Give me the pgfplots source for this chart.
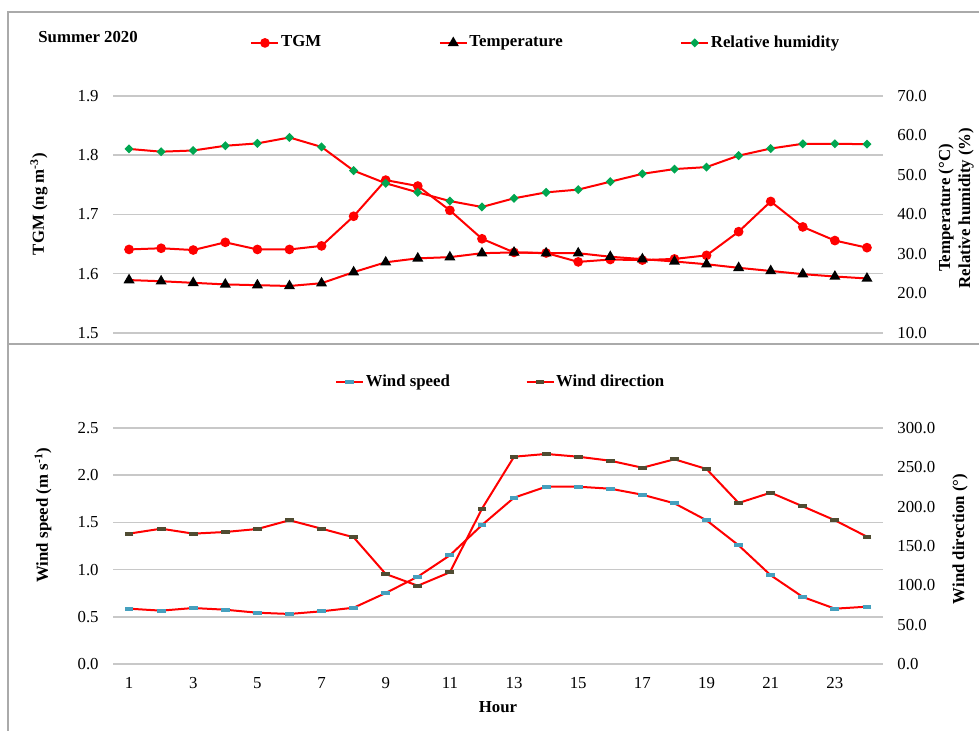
\documentclass[border=0pt]{standalone}
\usepackage{pgfplots}
\pgfplotsset{compat=1.18}
\usepackage{fontspec}
\setmainfont{Liberation Serif}
\definecolor{gridc}{RGB}{200,200,200}
\definecolor{framec}{RGB}{170,170,170}
\definecolor{rhgreen}{RGB}{0,166,80}
\definecolor{wsblue}{RGB}{70,160,190}
\definecolor{wdolive}{RGB}{80,76,50}
\newcommand{\ff}{\fontsize{8.4}{10}\selectfont}
\pgfplotsset{
  base/.style={scale only axis, width=385pt, xmin=0.5, xmax=24.5,
    axis line style={draw=none}, major tick length=0pt, tick style={draw=none},
    clip=false, font=\ff, /pgf/number format/assume math mode=true,
    every tick label/.append style={font=\ff, inner sep=0pt},
    legend image code/.code={\draw[mark repeat=2,mark phase=2,##1] plot coordinates {(0pt,0pt) (6.75pt,0pt) (13.5pt,0pt)};}},
  leftax/.style={ytick pos=left, ymajorgrids, major grid style={gridc, line width=0.75pt},
    yticklabel style={xshift=-7pt, /pgf/number format/.cd, fixed, fixed zerofill, precision=1}},
  rightax/.style={ytick pos=right, yticklabel pos=right, xtick=\empty,
    yticklabel style={xshift=7pt, /pgf/number format/.cd, fixed, fixed zerofill, precision=1}},
  tgm/.style={red, line width=1pt, mark=*, mark size=1.9pt, mark options={solid, fill=red, draw=red}},
  temp/.style={red, line width=1pt, mark=triangle*, mark size=2.2pt, mark options={solid, fill=black, draw=black}},
  rh/.style={red, line width=1pt, mark=square*, mark size=1.1pt, mark options={solid, rotate=45, fill=rhgreen, draw=rhgreen}},
  ws/.style={red, line width=1pt, mark=-, mark size=2.2pt, mark options={solid, draw=wsblue, line width=1.9pt}},
  wd/.style={red, line width=1pt, mark=-, mark size=2.2pt, mark options={solid, draw=wdolive, line width=1.9pt}},
}
\begin{document}
\begin{tikzpicture}
\useasboundingbox (0pt,0pt) rectangle (489.5pt,365.5pt);
% frame
\draw[framec, line width=0.75pt] (4pt,0pt) -- (4pt,359.5pt) -- (489.5pt,359.5pt);
\draw[framec, line width=0.75pt] (4pt,193.5pt) -- (489.5pt,193.5pt);

% ---------- top panel ----------
\begin{axis}[base, leftax, at={(56.5pt,199pt)}, anchor=south west, height=118.5pt,
  ymin=1.5, ymax=1.9, ytick={1.5,1.6,1.7,1.8,1.9}, xtick=\empty]
\addplot[tgm] coordinates {
(1,1.641) (2,1.643) (3,1.640) (4,1.653) (5,1.641) (6,1.641) (7,1.647) (8,1.697)
(9,1.758) (10,1.748) (11,1.707) (12,1.659) (13,1.636) (14,1.635) (15,1.620) (16,1.624)
(17,1.623) (18,1.625) (19,1.631) (20,1.671) (21,1.722) (22,1.679) (23,1.656) (24,1.644)};
\end{axis}
\begin{axis}[base, rightax, at={(56.5pt,199pt)}, anchor=south west, height=118.5pt,
  ymin=10, ymax=70, ytick={10,20,30,40,50,60,70},
  legend columns=3,
  legend style={draw=none, fill=none, inner sep=0pt, at={(0.178,1.224)}, anchor=west,
    font=\ff\bfseries, nodes={inner sep=0.8pt},
    /tikz/every even column/.append style={column sep=58pt}}]
\addlegendimage{tgm}
\addlegendentry{TGM}
\addplot[temp] coordinates {
(1,23.4) (2,23.1) (3,22.7) (4,22.3) (5,22.1) (6,21.9) (7,22.6) (8,25.4)
(9,27.9) (10,28.9) (11,29.2) (12,30.2) (13,30.4) (14,30.2) (15,30.2) (16,29.3)
(17,28.7) (18,28.1) (19,27.4) (20,26.5) (21,25.7) (22,24.9) (23,24.3) (24,23.8)};
\addlegendentry{Temperature}
\addplot[rh] coordinates {
(1,56.6) (2,55.9) (3,56.2) (4,57.4) (5,58.0) (6,59.5) (7,57.1) (8,51.1)
(9,47.9) (10,45.6) (11,43.4) (12,41.9) (13,44.1) (14,45.6) (15,46.3) (16,48.3)
(17,50.3) (18,51.5) (19,52.0) (20,54.9) (21,56.7) (22,57.9) (23,57.9) (24,57.8)};
\addlegendentry{Relative humidity}
\end{axis}

% ---------- bottom panel ----------
\begin{axis}[base, leftax, at={(56.5pt,33.5pt)}, anchor=south west, height=118pt,
  ymin=0, ymax=2.5, ytick={0,0.5,1,1.5,2,2.5},
  xtick={1,3,5,7,9,11,13,15,17,19,21,23}, xticklabel style={yshift=-6.5pt}]
\addplot[ws] coordinates {
(1,0.586) (2,0.565) (3,0.593) (4,0.575) (5,0.543) (6,0.530) (7,0.558) (8,0.596)
(9,0.752) (10,0.925) (11,1.151) (12,1.472) (13,1.762) (14,1.878) (15,1.878) (16,1.857)
(17,1.793) (18,1.702) (19,1.522) (20,1.257) (21,0.940) (22,0.710) (23,0.586) (24,0.607)};
\end{axis}
\begin{axis}[base, rightax, at={(56.5pt,33.5pt)}, anchor=south west, height=118pt,
  ymin=0, ymax=300, ytick={0,50,100,150,200,250,300},
  legend columns=2,
  legend style={draw=none, fill=none, inner sep=0pt, at={(0.288,1.195)}, anchor=west,
    font=\ff\bfseries, nodes={inner sep=0.8pt},
    /tikz/every even column/.append style={column sep=37pt}}]
\addlegendimage{ws}
\addlegendentry{Wind speed}
\addplot[wd] coordinates {
(1,165.7) (2,172.0) (3,165.7) (4,167.8) (5,171.6) (6,182.7) (7,172.0) (8,161.1)
(9,114.4) (10,99.5) (11,116.6) (12,197.4) (13,263.5) (14,267.0) (15,263.5) (16,258.4)
(17,249.5) (18,260.2) (19,247.9) (20,204.7) (21,217.8) (22,200.4) (23,182.7) (24,161.8)};
\addlegendentry{Wind direction}
\end{axis}

% ---------- texts ----------
\node[anchor=west, font=\ff\bfseries, inner sep=0pt] at (19pt,347pt) {Summer 2020};
\node[rotate=90, font=\ff\bfseries, inner sep=0pt] at (19.5pt,263.5pt) {TGM (ng m\textsuperscript{-3})};
\node[rotate=90, font=\ff\bfseries, inner sep=0pt, align=center] at (478pt,261.5pt) {Temperature (°C)\\Relative humidity (\%)};
\node[rotate=90, font=\ff\bfseries, inner sep=0pt] at (21.5pt,108pt) {Wind speed (m s\textsuperscript{-1})};
\node[rotate=90, font=\ff\bfseries, inner sep=0pt] at (480pt,96pt) {Wind direction (°)};
\node[font=\ff\bfseries, inner sep=0pt] at (249pt,12pt) {Hour};
\end{tikzpicture}
\end{document}
